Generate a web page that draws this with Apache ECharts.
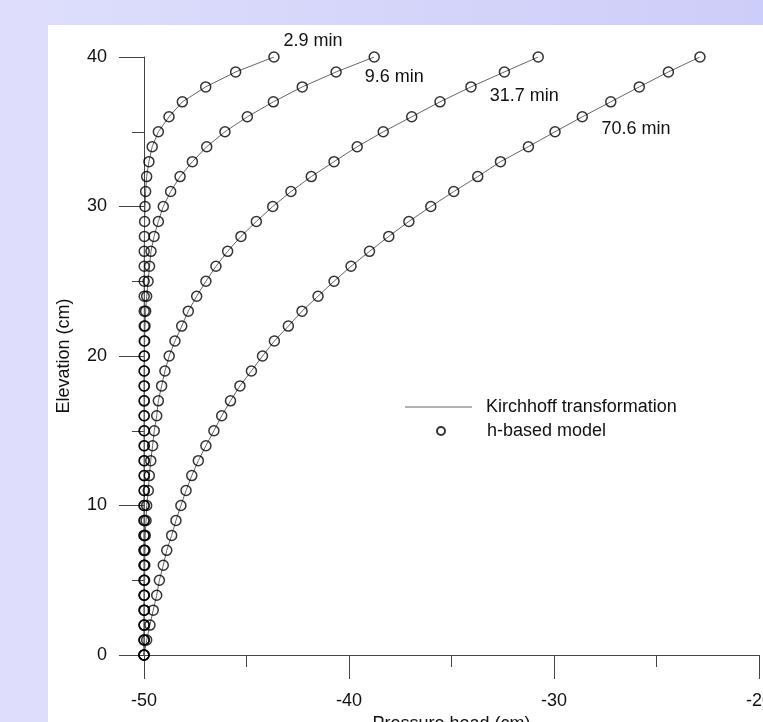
<!DOCTYPE html>
<html>
<head>
<meta charset="utf-8">
<script src="https://cdn.jsdelivr.net/npm/echarts@6/dist/echarts.min.js"></script>
<style>
html,body{margin:0;padding:0;width:763px;height:722px;overflow:hidden;}
body{background:linear-gradient(to right,#dedefc,#cdcdf9);position:relative;}
#panel{position:absolute;left:48px;top:25px;width:715px;height:697px;background:#fff;}
#chart{position:absolute;left:0;top:0;width:763px;height:722px;}
</style>
</head>
<body>
<div id="panel"></div>
<div id="chart"></div>
<script>
// Elevation (cm) of each node
var elevation = [0,1,2,3,4,5,6,7,8,9,10,11,12,13,14,15,16,17,18,19,20,21,22,23,24,25,26,27,28,29,30,31,32,33,34,35,36,37,38,39,40];
// Pressure head (cm) profiles, listed from elevation 0 to 40
var h_2_9 = [-50.00,-50.00,-50.00,-50.00,-50.00,-50.00,-50.00,-50.00,-50.00,-50.00,-50.00,-49.99,-49.99,-49.99,-49.99,-49.99,-49.99,-49.99,-49.99,-49.99,-49.99,-49.99,-49.99,-49.99,-49.99,-49.99,-49.99,-49.99,-49.98,-49.97,-49.95,-49.92,-49.87,-49.76,-49.60,-49.30,-48.78,-48.13,-46.99,-45.53,-43.66];
var h_9_6 = [-50.00,-49.99,-49.99,-49.99,-49.99,-49.99,-49.99,-49.99,-49.99,-49.99,-49.99,-49.99,-49.99,-49.99,-49.99,-49.99,-49.99,-49.99,-49.99,-49.99,-49.98,-49.97,-49.95,-49.92,-49.87,-49.80,-49.73,-49.66,-49.51,-49.30,-49.06,-48.70,-48.24,-47.64,-46.94,-46.05,-44.96,-43.69,-42.28,-40.63,-38.77];
var h_31_7 = [-50.00,-49.99,-49.99,-49.98,-49.98,-49.97,-49.96,-49.95,-49.94,-49.90,-49.87,-49.79,-49.74,-49.67,-49.58,-49.50,-49.38,-49.30,-49.14,-48.98,-48.77,-48.49,-48.16,-47.84,-47.43,-46.98,-46.49,-45.92,-45.27,-44.52,-43.72,-42.83,-41.84,-40.73,-39.60,-38.33,-36.94,-35.56,-34.05,-32.42,-30.77];
var h_70_6 = [-50.00,-49.87,-49.71,-49.55,-49.38,-49.25,-49.06,-48.89,-48.65,-48.44,-48.20,-47.95,-47.67,-47.35,-46.98,-46.59,-46.21,-45.78,-45.32,-44.76,-44.22,-43.64,-42.96,-42.29,-41.51,-40.73,-39.90,-39.00,-38.06,-37.08,-36.01,-34.89,-33.72,-32.61,-31.25,-29.95,-28.62,-27.23,-25.84,-24.42,-22.88];
var timeLabels = ['2.9 min','9.6 min','31.7 min','70.6 min'];
var xTicks = [-50,-40,-30,-20];
var yTicks = [0,10,20,30,40];
var lineName = 'Kirchhoff transformation';
var pointName = 'h-based model';

var profiles = [h_2_9, h_9_6, h_31_7, h_70_6];
var labelOffsets = [[9,-16],[-10,20],[-49,39],[-99,72]];
var FONT = "'Liberation Sans', Arial, sans-serif";
var FS = 18;

function pairs(h){ return h.map(function(v,i){ return [v, elevation[i]]; }); }

var series = [];
profiles.forEach(function(h, k){
  var top = h.length - 1;
  series.push({
    name: lineName, type: 'line', data: pairs(h),
    symbol: 'none', showSymbol: false, smooth: false,
    lineStyle: {color: '#666', width: 1}, itemStyle: {color: '#666'},
    z: 2,
    markPoint: {
      symbol: 'circle', symbolSize: 1, itemStyle: {color: 'transparent'},
      label: {show: true, position: 'right', distance: 0, offset: labelOffsets[k],
        formatter: timeLabels[k], color: '#111', fontSize: FS, fontFamily: FONT},
      data: [{coord: [h[top], elevation[top]]}]
    }
  });
});
profiles.forEach(function(h){
  series.push({
    name: pointName, type: 'scatter', data: pairs(h),
    symbol: 'circle', symbolSize: 10,
    itemStyle: {color: 'transparent', borderColor: '#000', borderWidth: 1.5},
    z: 3
  });
});

var chart = echarts.init(document.getElementById('chart'), null, {renderer: 'canvas'});
chart.setOption({
  animation: false,
  backgroundColor: 'transparent',
  textStyle: {fontFamily: FONT},
  grid: {left: 144, right: 4, top: 57, bottom: 67, containLabel: false, outerBoundsMode: 'none'},
  legend: [
    {data: [{name: lineName, icon: 'rect'}], left: 405, top: 398, padding: 0, itemWidth: 67, itemHeight: 1, selectedMode: false,
     textStyle: {fontSize: FS, color: '#111', fontFamily: FONT, padding: [0,0,0,9]}},
    {data: [{name: pointName, icon: 'circle'}], left: 436, top: 422, padding: 0, itemWidth: 8, itemHeight: 8, selectedMode: false,
     textStyle: {fontSize: FS, color: '#111', fontFamily: FONT, padding: [0,0,0,37]}}
  ],
  xAxis: {
    type: 'value', min: xTicks[0], max: xTicks[xTicks.length-1], interval: 10,
    name: 'Pressure head (cm)', nameLocation: 'middle', nameGap: 60,
    nameTextStyle: {fontSize: FS, color: '#111', fontFamily: FONT},
    axisLine: {show: true, lineStyle: {color: '#444', width: 1}},
    axisTick: {show: true, length: 24, lineStyle: {color: '#444', width: 1}},
    minorTick: {show: true, splitNumber: 2, length: 12, lineStyle: {color: '#444', width: 1}},
    splitLine: {show: false}, minorSplitLine: {show: false},
    axisLabel: {margin: 37, fontSize: FS, color: '#111', fontFamily: FONT, showMaxLabel: true}
  },
  yAxis: {
    type: 'value', min: yTicks[0], max: yTicks[yTicks.length-1], interval: 10,
    name: 'Elevation (cm)', nameLocation: 'middle', nameGap: 71,
    nameTextStyle: {fontSize: FS, color: '#111', fontFamily: FONT},
    axisLine: {show: true, lineStyle: {color: '#444', width: 1}},
    axisTick: {show: true, length: 25, lineStyle: {color: '#444', width: 1}},
    minorTick: {show: true, splitNumber: 2, length: 12, lineStyle: {color: '#444', width: 1}},
    splitLine: {show: false}, minorSplitLine: {show: false},
    axisLabel: {margin: 37, fontSize: FS, color: '#111', fontFamily: FONT}
  },
  series: series
});
</script>
</body>
</html>
